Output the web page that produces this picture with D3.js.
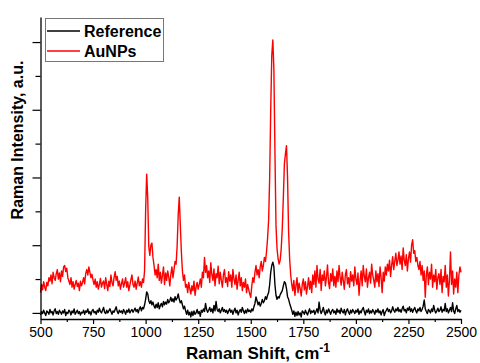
<!DOCTYPE html>
<html>
<head>
<meta charset="utf-8">
<script src="https://cdn.jsdelivr.net/npm/d3@7"></script>
<style>
  body { margin: 0; background: #fff; }
  text { font-family: "Liberation Sans", Arial, sans-serif; }
</style>
</head>
<body>
<svg id="chart" width="480" height="363"></svg>
<script>
// Raman shift (cm-1), one point every 5 cm-1 from 500 to 2500
var shift = d3.range(500, 2501, 5);

// reference spectrum (a.u.), 20 values per 100 cm-1
var reference = [
  -30, 20, -10, 40, 0, -40, 30, 10, -20, 50, 0, 20, -30, 30, 60, -10, 20, -20, 40, 10,
  -20, 30, 0, 50, -40, 10, -10, 40, 20, -30, 30, 0, 60, -20, 10, 40, -10, 20, -30, 10,
  0, 40, -20, 30, 10, 60, -10, 20, -30, 30, 50, 0, 20, -20, 40, 10, 70, 20, 0, 40,
  80, 10, -10, 40, 0, 30, 60, 20, -20, 30, 10, 50, 90, 20, -10, 40, 10, 30, -10, 50,
  20, -20, 40, 10, 60, 0, 30, 50, 10, 40, 70, 20, 50, 0, 60, 90, 30, 80, 60, 120,
  200, 310, 280, 180, 140, 180, 120, 160, 100, 70, 130, 80, 150, 60, 110, 140, 90, 170, 120, 160,
  130, 200, 150, 180, 230, 170, 210, 160, 240, 190, 220, 280, 200, 150, 180, 120, 60, 100, 30, -20,
  40, -30, 10, -60, 20, -40, 30, -20, 0, 50, -10, 20, -50, 40, 10, 60, 20, 140, 50, 10,
  40, 80, 20, 60, 0, 110, 30, 170, 50, 20, 60, 0, 40, 80, 20, 50, 10, 40, -10, 30,
  60, 10, 40, -20, 30, 70, 0, 40, -30, 20, 50, 10, 80, 30, -10, 40, 0, 60, 20, 40,
  10, 60, 30, 90, 140, 236, 180, 120, 160, 100, 140, 200, 150, 180, 240, 200, 260, 300, 420, 600,
  700, 750, 680, 420, 260, 200, 240, 220, 270, 300, 330, 400, 460, 440, 360, 240, 200, 140, 90, 40,
  -20, 30, -50, 10, -40, 20, -30, 0, -60, 30, 10, -20, 40, 0, -30, 20, 60, -10, 30, 10,
  40, -20, 20, 60, 0, 160, 40, -10, 30, 80, 10, -30, 40, 0, 60, 20, -20, 30, 50, 0,
  30, -20, 60, 10, 40, -10, 70, 20, 0, 50, -30, 30, 60, 10, -20, 40, 0, 50, 20, -10,
  40, 10, 60, -20, 30, 0, 50, 80, 20, -30, 40, 10, 60, -10, 30, 0, 50, 20, -20, 40,
  10, 60, 0, 30, -30, 20, 50, -40, 10, 40, 70, 20, 50, 0, 30, 90, 40, 10, 60, 30,
  80, 20, 50, 10, 60, 100, 30, 50, 0, 70, 40, 90, 20, 60, 10, 50, 80, 30, 0, 60,
  30, 80, 20, 50, 100, 190, 60, 20, -10, 50, 30, 0, 60, 20, 110, 40, 0, 30, 70, 20,
  40, 90, 10, 50, 30, 140, 20, 60, 0, 40, 80, 20, 150, 30, -10, 60, 110, 20, 50, 10,
  40
];

// AuNPs spectrum (a.u.), 20 values per 100 cm-1
var aunps = [
  300, 420, 340, 460, 380, 330, 450, 400, 520, 470, 560, 430, 600, 520, 480, 580, 640, 500, 590, 460,
  620, 540, 680, 700, 610, 660, 520, 470, 420, 520, 380, 460, 350, 420, 480, 390, 440, 330, 470, 400,
  450, 520, 430, 580, 640, 560, 680, 600, 520, 570, 480, 420, 500, 380, 460, 350, 420, 510, 380, 440,
  470, 360, 520, 420, 330, 470, 390, 560, 450, 400, 520, 610, 480, 540, 400, 470, 350, 430, 500, 380,
  440, 520, 380, 460, 330, 410, 490, 560, 420, 380, 470, 350, 440, 530, 400, 460, 380, 500, 450, 620,
  1500, 2050, 1700, 980, 850, 1000, 1030, 820, 700, 560, 640, 520, 720, 480, 600, 440, 560, 680, 420, 590,
  480, 620, 530, 400, 570, 680, 520, 640, 760, 720, 1000, 1450, 1710, 1300, 900, 620, 480, 560, 380, 420,
  300, 450, 360, 280, 400, 330, 470, 260, 380, 450, 350, 420, 500, 380, 600, 520, 820, 600, 700, 520,
  620, 450, 740, 560, 480, 650, 400, 580, 520, 690, 430, 600, 480, 380, 560, 640, 450, 520, 390, 610,
  470, 560, 380, 640, 500, 420, 560, 350, 480, 600, 400, 520, 330, 450, 380, 500, 300, 420, 350, 280,
  230, 400, 520, 450, 600, 700, 560, 640, 520, 680, 760, 620, 700, 820, 760, 900, 1100, 1370, 2000, 3000,
  3800, 4030, 3600, 2400, 1300, 950, 800, 720, 780, 950, 1250, 1700, 2200, 2350, 2470, 2000, 1200, 800, 560, 420,
  330, 480, 260, 400, 520, 300, 440, 360, 250, 420, 500, 340, 460, 280, 390, 520, 350, 470, 300, 560,
  420, 620, 380, 700, 500, 440, 640, 330, 560, 480, 620, 400, 520, 710, 450, 360, 580, 470, 650, 400,
  540, 380, 620, 460, 700, 520, 410, 600, 480, 350, 560, 640, 430, 520, 380, 610, 470, 560, 400, 680,
  500, 420, 590, 260, 480, 620, 400, 700, 540, 460, 650, 380, 520, 600, 440, 720, 560, 480, 380, 620,
  460, 580, 390, 680, 520, 300, 600, 470, 680, 560, 720, 620, 780, 540, 700, 830, 640, 760, 880, 700,
  780, 900, 720, 840, 640, 960, 780, 700, 860, 620, 800, 900, 750, 1000, 1080, 880, 920, 760, 820, 700,
  640, 760, 560, 700, 480, 620, 230, 560, 680, 420, 600, 500, 720, 380, 560, 460, 640, 350, 520, 580,
  420, 640, 300, 540, 460, 700, 380, 560, 250, 480, 900, 420, 620, 280, 500, 380, 600, 300, 560, 680,
  600
];

var xTicks = [500, 750, 1000, 1250, 1500, 1750, 2000, 2250, 2500];
var xMinorTicks = [625, 875, 1125, 1375, 1625, 1875, 2125, 2375];
var yTicks = [0, 1000, 2000, 3000, 4000];
var yMinorTicks = [500, 1500, 2500, 3500];
var seriesNames = ["Reference", "AuNPs"];
var seriesColors = ["#000000", "#ff0000"];

var svg = d3.select("#chart");

var x = d3.scaleLinear().domain([500, 2500]).range([40.5, 461]);
var y = d3.scaleLinear().domain([-90, 4370]).range([319, 17]);

// spectra
var line = d3.line()
  .x(function(d, i) { return x(shift[i]); })
  .y(function(d) { return y(d); });

[reference, aunps].forEach(function(s, k) {
  svg.append("path")
    .datum(s)
    .attr("fill", "none")
    .attr("stroke", seriesColors[k])
    .attr("stroke-width", 1.4)
    .attr("stroke-linejoin", "round")
    .attr("d", line);
});

// bottom axis
var xAxis = svg.append("g")
  .attr("transform", "translate(0,319)")
  .call(d3.axisBottom(x).tickValues(xTicks).tickSize(5).tickSizeOuter(0).tickPadding(3).tickFormat(d3.format("d")));
svg.append("g")
  .attr("transform", "translate(0,319)")
  .call(d3.axisBottom(x).tickValues(xMinorTicks).tickSize(3).tickFormat(""))
  .select(".domain").remove();

// left axis, ticks only
svg.append("g")
  .attr("transform", "translate(40.5,0)")
  .call(d3.axisLeft(y).tickValues(yTicks).tickSize(8).tickSizeOuter(0).tickFormat(""));
svg.append("g")
  .attr("transform", "translate(40.5,0)")
  .call(d3.axisLeft(y).tickValues(yMinorTicks).tickSize(5).tickFormat(""))
  .select(".domain").remove();

svg.selectAll(".domain").attr("stroke-width", 1.3);
svg.selectAll(".tick line").attr("stroke-width", 1.2);
xAxis.selectAll(".tick text")
  .attr("font-size", 14)
  .attr("fill", "#000")
  .style("font-family", "'Liberation Sans', Arial, sans-serif");

// axis titles
var xt = svg.append("text")
  .attr("x", 258).attr("y", 359)
  .attr("text-anchor", "middle")
  .attr("font-size", 17).attr("font-weight", "bold");
xt.append("tspan").text("Raman Shift, cm");
xt.append("tspan").attr("dy", -7).attr("font-size", 12).text("-1");

svg.append("text")
  .attr("transform", "translate(23,140) rotate(-90)")
  .attr("text-anchor", "middle")
  .attr("font-size", 16).attr("font-weight", "bold")
  .text("Raman Intensity, a.u.");

// legend
var legend = svg.append("g");
legend.append("rect")
  .attr("x", 45.5).attr("y", 18.5).attr("width", 118).attr("height", 43)
  .attr("fill", "#fff").attr("stroke", "#777").attr("stroke-width", 1);
seriesNames.forEach(function(n, k) {
  var cy = 31 + k * 20;
  legend.append("line")
    .attr("x1", 47).attr("x2", 80).attr("y1", cy).attr("y2", cy)
    .attr("stroke", seriesColors[k]).attr("stroke-width", 1.3);
  legend.append("text")
    .attr("x", 84).attr("y", cy + 6)
    .attr("font-size", 16).attr("font-weight", "bold")
    .text(n);
});
</script>
</body>
</html>
